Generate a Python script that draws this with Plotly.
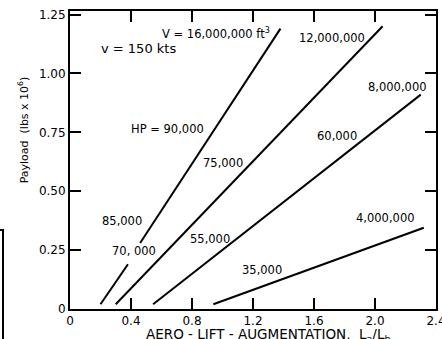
import plotly.graph_objects as go

# payload vs aero-lift augmentation, v = 150 kts
# None splits the 16,000,000 line where the "70, 000" label sits
v16_x = [0.20, 0.38, None, 0.46, 1.38]
v16_y = [0.02, 0.19, None, 0.28, 1.19]
v12_x = [0.30, 2.05]
v12_y = [0.02, 1.20]
v8_x = [0.545, 2.30]
v8_y = [0.02, 0.91]
v4_x = [0.94, 2.32]
v4_y = [0.02, 0.345]

x_ticks = [0, 0.4, 0.8, 1.2, 1.6, 2.0, 2.4]
x_tick_text = ["0", "0.4", "0.8", "1.2", "1.6", "2.0", "2.4"]
y_ticks = [0, 0.25, 0.5, 0.75, 1.0, 1.25]
y_tick_text = ["0", "0.25", "0.50", "0.75", "1.00", "1.25"]

labels = ["V = 16,000,000 ft<sup>3</sup>", "v = 150 kts", "12,000,000", "8,000,000",
          "60,000", "HP = 90,000", "75,000", "85,000", "70, 000", "55,000",
          "35,000", "4,000,000"]
label_x = [0.96, 0.45, 1.72, 2.145, 1.75, 0.64, 1.0, 0.34, 0.42, 0.92, 1.26, 2.07]
label_y = [1.17, 1.105, 1.15, 0.943, 0.734, 0.763, 0.62, 0.373, 0.246, 0.297, 0.167, 0.386]
label_size = [11.5, 13, 11.5, 11.5, 11.5, 11.5, 11.5, 11.5, 11.5, 11.5, 11.5, 11.5]

font = "DejaVu Sans"

fig = go.Figure()
for xs, ys in [(v16_x, v16_y), (v12_x, v12_y), (v8_x, v8_y), (v4_x, v4_y)]:
    fig.add_trace(go.Scatter(x=xs, y=ys, mode="lines", connectgaps=False,
                             line=dict(color="black", width=2), showlegend=False,
                             hoverinfo="skip"))

for t, lx, ly, sz in zip(labels, label_x, label_y, label_size):
    fig.add_annotation(x=lx, y=ly, text=t, showarrow=False,
                       xanchor="center", yanchor="middle",
                       font=dict(family=font, size=sz, color="black"))

# axis titles
fig.add_annotation(xref="paper", yref="paper", x=0.54, y=-0.086, xanchor="center", yanchor="middle",
                   text="AERO - LIFT - AUGMENTATION,  L<sub>a</sub>/L<sub>b</sub>",
                   showarrow=False, font=dict(family=font, size=13.5, color="black"))
fig.add_annotation(xref="paper", yref="paper", x=-0.128, y=0.60, xanchor="center", yanchor="middle",
                   text="Payload  (lbs x 10<sup>6</sup>)",
                   textangle=-90, showarrow=False, font=dict(family=font, size=11, color="black"))

# edge of the neighbouring figure on the scanned page
fig.add_shape(type="line", xref="paper", yref="paper", x0=-0.183, x1=-0.183, y0=0.265, y1=-0.11,
              line=dict(color="black", width=2))
fig.add_shape(type="line", xref="paper", yref="paper", x0=-0.195, x1=-0.180, y0=0.265, y1=0.265,
              line=dict(color="black", width=2))

axis_common = dict(showgrid=False, zeroline=False, showline=True, linecolor="black", linewidth=2,
                   mirror="ticks", ticks="inside", ticklen=11, tickwidth=2, tickcolor="black",
                   automargin=False, ticklabeloverflow="allow",
                   tickfont=dict(family=font, size=12, color="black"))
fig.update_xaxes(range=[0, 2.4], tickvals=x_ticks, ticktext=x_tick_text, **axis_common)
fig.update_yaxes(range=[0, 1.265], tickvals=y_ticks, ticktext=y_tick_text, **axis_common)

fig.update_layout(width=442, height=339, margin=dict(l=70, r=6, t=11, b=30),
                  plot_bgcolor="white", paper_bgcolor="white")
# page body has a default 8px margin; drop it so the figure sits at the window corner
fig.write_html("out.html", config={"displayModeBar": False},
               post_script="document.body.style.margin='0';document.body.style.overflow='hidden';")
